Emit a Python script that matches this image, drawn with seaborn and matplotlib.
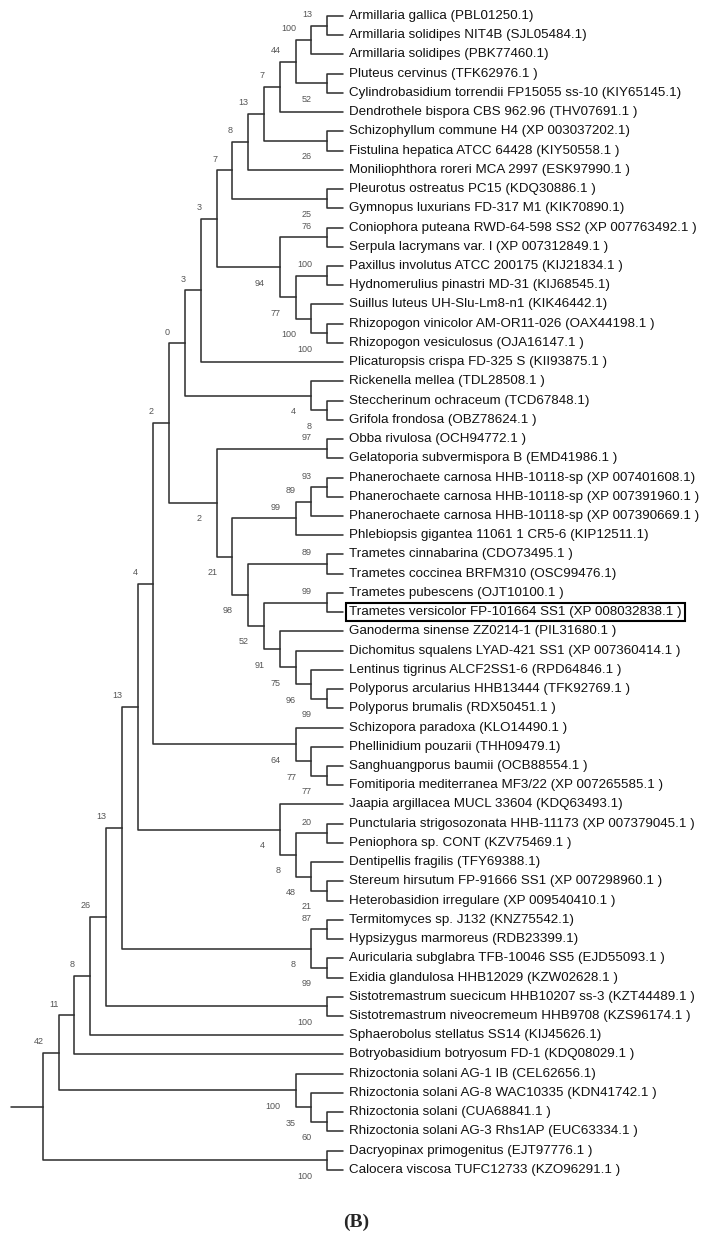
import pandas as pd
import matplotlib
matplotlib.use('Agg')
import matplotlib.pyplot as plt
from matplotlib import font_manager
import seaborn as sns

leaf_names = [
    "Armillaria gallica (PBL01250.1)",
    "Armillaria solidipes NIT4B (SJL05484.1)",
    "Armillaria solidipes (PBK77460.1)",
    "Pluteus cervinus (TFK62976.1 )",
    "Cylindrobasidium torrendii FP15055 ss-10 (KIY65145.1)",
    "Dendrothele bispora CBS 962.96 (THV07691.1 )",
    "Schizophyllum commune H4 (XP 003037202.1)",
    "Fistulina hepatica ATCC 64428 (KIY50558.1 )",
    "Moniliophthora roreri MCA 2997 (ESK97990.1 )",
    "Pleurotus ostreatus PC15 (KDQ30886.1 )",
    "Gymnopus luxurians FD-317 M1 (KIK70890.1)",
    "Coniophora puteana RWD-64-598 SS2 (XP 007763492.1 )",
    "Serpula lacrymans var. l (XP 007312849.1 )",
    "Paxillus involutus ATCC 200175 (KIJ21834.1 )",
    "Hydnomerulius pinastri MD-31 (KIJ68545.1)",
    "Suillus luteus UH-Slu-Lm8-n1 (KIK46442.1)",
    "Rhizopogon vinicolor AM-OR11-026 (OAX44198.1 )",
    "Rhizopogon vesiculosus (OJA16147.1 )",
    "Plicaturopsis crispa FD-325 S (KII93875.1 )",
    "Rickenella mellea (TDL28508.1 )",
    "Steccherinum ochraceum (TCD67848.1)",
    "Grifola frondosa (OBZ78624.1 )",
    "Obba rivulosa (OCH94772.1 )",
    "Gelatoporia subvermispora B (EMD41986.1 )",
    "Phanerochaete carnosa HHB-10118-sp (XP 007401608.1)",
    "Phanerochaete carnosa HHB-10118-sp (XP 007391960.1 )",
    "Phanerochaete carnosa HHB-10118-sp (XP 007390669.1 )",
    "Phlebiopsis gigantea 11061 1 CR5-6 (KIP12511.1)",
    "Trametes cinnabarina (CDO73495.1 )",
    "Trametes coccinea BRFM310 (OSC99476.1)",
    "Trametes pubescens (OJT10100.1 )",
    "Trametes versicolor FP-101664 SS1 (XP 008032838.1 )",
    "Ganoderma sinense ZZ0214-1 (PIL31680.1 )",
    "Dichomitus squalens LYAD-421 SS1 (XP 007360414.1 )",
    "Lentinus tigrinus ALCF2SS1-6 (RPD64846.1 )",
    "Polyporus arcularius HHB13444 (TFK92769.1 )",
    "Polyporus brumalis (RDX50451.1 )",
    "Schizopora paradoxa (KLO14490.1 )",
    "Phellinidium pouzarii (THH09479.1)",
    "Sanghuangporus baumii (OCB88554.1 )",
    "Fomitiporia mediterranea MF3/22 (XP 007265585.1 )",
    "Jaapia argillacea MUCL 33604 (KDQ63493.1)",
    "Punctularia strigosozonata HHB-11173 (XP 007379045.1 )",
    "Peniophora sp. CONT (KZV75469.1 )",
    "Dentipellis fragilis (TFY69388.1)",
    "Stereum hirsutum FP-91666 SS1 (XP 007298960.1 )",
    "Heterobasidion irregulare (XP 009540410.1 )",
    "Termitomyces sp. J132 (KNZ75542.1)",
    "Hypsizygus marmoreus (RDB23399.1)",
    "Auricularia subglabra TFB-10046 SS5 (EJD55093.1 )",
    "Exidia glandulosa HHB12029 (KZW02628.1 )",
    "Sistotremastrum suecicum HHB10207 ss-3 (KZT44489.1 )",
    "Sistotremastrum niveocremeum HHB9708 (KZS96174.1 )",
    "Sphaerobolus stellatus SS14 (KIJ45626.1)",
    "Botryobasidium botryosum FD-1 (KDQ08029.1 )",
    "Rhizoctonia solani AG-1 IB (CEL62656.1)",
    "Rhizoctonia solani AG-8 WAC10335 (KDN41742.1 )",
    "Rhizoctonia solani (CUA68841.1 )",
    "Rhizoctonia solani AG-3 Rhs1AP (EUC63334.1 )",
    "Dacryopinax primogenitus (EJT97776.1 )",
    "Calocera viscosa TUFC12733 (KZO96291.1 )",
]

# topology as newick, leaves are indices into leaf_names, node labels = bootstrap
agaric = "(((((((0,1)13,2)100,(3,4)52)44,5)7,(6,7)26)13,8)8,(9,10)25)7"
boletales = "((11,12)76,((13,14)100,(15,(16,17)100)100)77)94"
rickenella = "(19,(20,21)8)4"
phanero = "(((24,25)93,26)89,27)99"
trametes = "((28,29)89,((30,31)99,(32,(33,(34,(35,36)99)96)75)91)52)98"
polyporales = "((22,23)97,(" + phanero + "," + trametes + ")21)2"
hymeno = "(37,(38,(39,40)77)77)64"
russulales = "(41,((42,43)20,(44,(45,46)21)48)8)4"
auricularia = "((47,48)87,(49,50)99)8"
rhizoctonia = "(55,(56,(57,58)60)35)100"

tree_newick = ("((((((((((((" + agaric + "," + boletales + ")3,18)3," + rickenella + ")0,"
               + polyporales + ")2," + hymeno + ")4," + russulales + ")13,"
               + auricularia + ")13,(51,52)100)26,53)8,54)11," + rhizoctonia + ")42,(59,60)100)")

highlight = 31


def parse(s):
    pos = 0

    def node():
        nonlocal pos
        if s[pos] == '(':
            pos += 1
            kids = [node()]
            while s[pos] == ',':
                pos += 1
                kids.append(node())
            pos += 1
            lab = ''
            while pos < len(s) and s[pos] not in ',)':
                lab += s[pos]
                pos += 1
            return {'kids': kids, 'label': lab}
        num = ''
        while s[pos] not in ',)':
            num += s[pos]
            pos += 1
        return {'leaf': int(num)}
    return node()


def layout(n):
    if 'leaf' in n:
        n['h'] = 0
        n['y'] = n['leaf']
        return
    for k in n['kids']:
        layout(k)
    n['h'] = max(k['h'] for k in n['kids']) + 1
    n['y'] = (n['kids'][0]['y'] + n['kids'][-1]['y']) / 2


root = parse(tree_newick)
layout(root)

rows = []
labels = []
seg = 0


def walk(n):
    global seg
    if 'leaf' in n:
        return
    for i, k in enumerate(n['kids']):
        for j, (x, y) in enumerate([(n['h'], n['y']), (n['h'], k['y']), (k['h'], k['y'])]):
            rows.append({'seg': seg, 'o': j, 'x': x, 'y': y})
        seg += 1
        if 'kids' in k and k['label']:
            labels.append((k['h'], k['y'], k['label'], i == 0))
        walk(k)


walk(root)
# root stub
for j, x in enumerate([root['h'] + 2, root['h']]):
    rows.append({'seg': seg, 'o': j, 'x': x, 'y': root['y']})
df = pd.DataFrame(rows)

sns.set_theme(style='white')
installed = {f.name for f in font_manager.fontManager.ttflist}
narrow = 'Liberation Sans Narrow' in installed
plt.rcParams['font.family'] = ['Liberation Sans Narrow' if narrow else 'Liberation Sans', 'DejaVu Sans']
leaf_fs = 11.5 if narrow else 9.6
boot_fs = 7.5 if narrow else 6.5

fig = plt.figure(figsize=(7.12, 12.39), dpi=100)
ax = fig.add_axes([0, 0, 1, 1])
sns.lineplot(data=df, x='x', y='y', units='seg', estimator=None, sort=False,
             color='#333333', linewidth=1.15, ax=ax, legend=False)

step = 15.8
ax.set_xlim(343 / step, (343 - 712) / step)
ax.set_ylim((1239 - 16) / 19.23, -16 / 19.23)
ax.axis('off')

for i, name in enumerate(leaf_names):
    kw = {}
    if i == highlight:
        kw['bbox'] = dict(boxstyle='square,pad=0.25', fc='white', ec='black', lw=1.5)
    ax.annotate(name, (0, i), xytext=(4.4, 0), textcoords='offset points',
                ha='left', va='center', fontsize=leaf_fs, color='#111111', **kw)

for h, y, lab, upper in labels:
    ax.annotate(lab, (h, y), xytext=(-11, 8 if upper else -11.5),
                textcoords='offset points', ha='right', va='center',
                fontsize=boot_fs, color='#555555')

fig.text(0.5, 1 - 1222 / 1239, '(B)', ha='center', va='center', fontsize=14,
         fontweight='bold', family='Liberation Serif')

fig.savefig('out.png', dpi=100)
